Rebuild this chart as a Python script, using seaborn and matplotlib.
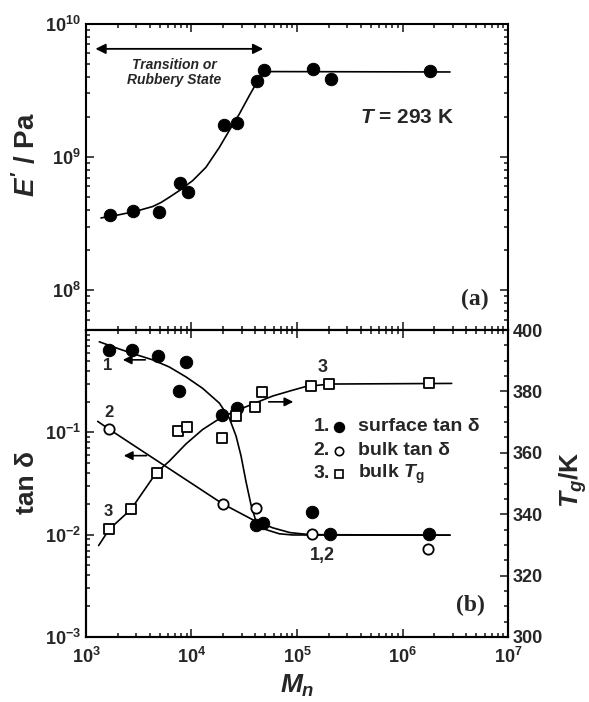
import matplotlib
matplotlib.use('Agg')
import matplotlib.pyplot as plt
import matplotlib.ticker as mticker
import seaborn as sns

# ---------------- data ----------------
# (a) storage modulus E' vs Mn
E_mn = [1690, 2770, 4950, 7780, 9200, 20200, 27000, 41500, 49000, 141000, 208000, 1820000]
E_val = [3.66e8, 3.90e8, 3.84e8, 6.34e8, 5.48e8, 1.75e9, 1.80e9, 3.75e9, 4.51e9, 4.56e9, 3.86e9, 4.44e9]
E_fit_mn = [1387, 2070, 2979, 4285, 5150, 6166, 7656, 10260, 13710, 18370, 22800, 28380,
            35320, 40830, 47320, 54580, 2818000]
E_fit_val = [3.48e8, 3.68e8, 3.91e8, 4.24e8, 4.55e8, 4.98e8, 5.58e8, 6.64e8, 8.36e8, 1.18e9,
             1.58e9, 2.10e9, 2.89e9, 3.54e9, 4.21e9, 4.38e9, 4.35e9]

# (b) surface tan delta (1), bulk tan delta (2), bulk Tg (3)
surf_mn = [1650, 2730, 4770, 7570, 8870, 19300, 26800, 40800, 48000, 139700, 205000, 1800000]
surf_tan = [0.643, 0.638, 0.553, 0.254, 0.492, 0.149, 0.173, 0.0124, 0.0130, 0.0166, 0.0101, 0.0101]
surf_fit_mn = [1337, 2070, 2979, 4285, 6166, 8872, 12760, 18370, 22800, 26420, 29440, 32890,
               36640, 40830, 50820, 67920, 91000, 2818000]
surf_fit_tan = [0.767, 0.652, 0.575, 0.511, 0.435, 0.348, 0.269, 0.193, 0.138, 0.0923, 0.0592,
                0.0328, 0.0196, 0.0135, 0.0112, 0.0102, 0.00993, 0.00989]

bulk_mn = [1660, 19800, 40800, 137600, 1760000]
bulk_tan = [0.107, 0.0200, 0.0182, 0.0101, 0.0072]
bulk_fit_mn = [1291, 1663, 19770, 38020, 58880, 85900, 132700, 2818000]
bulk_fit_tan = [0.128, 0.107, 0.0200, 0.0140, 0.01167, 0.01047, 0.0100, 0.00989]

tg_mn = [1640, 2670, 4710, 7500, 9020, 19300, 26400, 40300, 46600, 135000, 201000, 1780000]
tg_val = [335.1, 341.6, 353.4, 367.1, 368.4, 364.8, 372.0, 374.8, 379.7, 381.9, 382.4, 382.8]
tg_fit_mn = [1318, 1663, 2673, 4613, 6166, 8872, 12760, 18370, 24550, 38020, 58880, 91000,
             121600, 205600, 2924000]
tg_fit_val = [329.8, 335.1, 341.6, 353.4, 357.3, 362.9, 367.6, 371.1, 373.2, 375.9, 378.5,
              380.4, 381.6, 382.4, 382.6]

x_ticks = [1e3, 1e4, 1e5, 1e6, 1e7]

# ---------------- style ----------------
sns.set_style('ticks')
plt.rcParams.update({
    'font.family': ['Liberation Sans', 'DejaVu Sans'],
    'font.weight': 'bold',
    'mathtext.fontset': 'custom',
    'mathtext.rm': 'Liberation Sans:bold',
    'mathtext.it': 'Liberation Sans:bold:italic',
    'mathtext.bf': 'Liberation Sans:bold',
    'axes.linewidth': 1.5,
    'axes.edgecolor': 'black',
})

fig = plt.figure(figsize=(5.89, 7.02), dpi=100)
ax1 = fig.add_axes([0.146, 0.530, 0.7165, 0.436])
ax2 = fig.add_axes([0.146, 0.0926, 0.7165, 0.4373])
ax3 = ax2.twinx()

for ax in (ax1, ax2):
    ax.set_xscale('log')
    ax.set_yscale('log')
    ax.set_xlim(1e3, 1e7)

ax1.set_ylim(10 ** 7.7, 1e10)
ax2.set_ylim(1e-3, 1)
ax3.set_ylim(300, 400)

# ---------------- (a) ----------------
sns.lineplot(x=E_fit_mn, y=E_fit_val, ax=ax1, color='black', lw=1.2, estimator=None, sort=False)
sns.scatterplot(x=E_mn, y=E_val, ax=ax1, color='black', s=80, edgecolor='black', zorder=3)

ax1.annotate('', xy=(1157, 6.49e9), xytext=(50800, 6.49e9),
             arrowprops=dict(arrowstyle='<|-|>', color='black', lw=1.3, mutation_scale=15))
ax1.text(0.209, 0.84, 'Transition or\nRubbery State', transform=ax1.transAxes,
         ha='center', va='center', fontsize=10, fontstyle='italic', linespacing=1.1)
ax1.text(0.761, 0.693, '$T$ = 293 K', transform=ax1.transAxes, ha='center', va='center',
         fontsize=15)
ax1.text(0.922, 0.098, '(a)', transform=ax1.transAxes, ha='center', va='center',
         fontsize=17, family='Liberation Serif')

# ---------------- (b) ----------------
sns.lineplot(x=surf_fit_mn, y=surf_fit_tan, ax=ax2, color='black', lw=1.2, estimator=None, sort=False)
sns.lineplot(x=bulk_fit_mn, y=bulk_fit_tan, ax=ax2, color='black', lw=1.2, estimator=None, sort=False)
sns.scatterplot(x=surf_mn, y=surf_tan, ax=ax2, color='black', s=80, edgecolor='black', zorder=3)
sns.scatterplot(x=bulk_mn, y=bulk_tan, ax=ax2, color='white', s=55, edgecolor='black',
                linewidth=1.3, zorder=4)

ax3.set_xscale('log')
sns.lineplot(x=tg_fit_mn, y=tg_fit_val, ax=ax3, color='black', lw=1.2, estimator=None, sort=False)
sns.scatterplot(x=tg_mn, y=tg_val, ax=ax3, marker='s', color='white', s=60, edgecolor='black',
                linewidth=1.3, zorder=4)
ax3.set_xlim(1e3, 1e7)

arrow = dict(arrowstyle='-|>', color='black', lw=1.2, mutation_scale=13)
ax2.annotate('', xy=(2100, 0.511), xytext=(3873, 0.511), arrowprops=arrow)
ax2.annotate('', xy=(2148, 0.0592), xytext=(3981, 0.0592), arrowprops=arrow)
ax3.annotate('', xy=(98000, 376.6), xytext=(50800, 376.6), arrowprops=arrow)

ax2.text(1604, 0.451, '1', ha='center', va='center', fontsize=12)
ax2.text(1641, 0.157, '2', ha='center', va='center', fontsize=12)
ax3.text(1641, 340.8, '3', ha='center', va='center', fontsize=12)
ax3.text(173800, 387.8, '3', ha='center', va='center', fontsize=13)
ax2.text(173800, 0.00624, '1,2', ha='center', va='center', fontsize=13)
ax2.text(0.910, 0.104, '(b)', transform=ax2.transAxes, ha='center', va='center',
         fontsize=17, family='Liberation Serif')

# hand-made legend
leg_y = [0.685, 0.606, 0.531]
leg_num = ['1.', '2.', '3.']
leg_lbl = ['surface tan δ', 'bulk tan δ', 'bulk $T_\\mathrm{g}$']
leg_mk = [('o', 'black', 7), ('o', 'white', 6), ('s', 'white', 6)]
for y, n, lbl, (m, fc, ms) in zip(leg_y, leg_num, leg_lbl, leg_mk):
    ax2.text(0.539, y, n, transform=ax2.transAxes, ha='left', va='center', fontsize=14)
    ax2.plot([0.600], [y], marker=m, ms=ms, mfc=fc, mec='black', mew=1.2, ls='none',
             transform=ax2.transAxes, clip_on=False, zorder=6)
    ax2.text(0.645, y, lbl, transform=ax2.transAxes, ha='left', va='center', fontsize=14)

# ---------------- ticks ----------------
for ax in (ax1, ax2):
    ax.set_xticks(x_ticks)
    ax.xaxis.set_minor_locator(mticker.LogLocator(subs=range(2, 10), numticks=20))
    ax.xaxis.set_minor_formatter(mticker.NullFormatter())
    ax.yaxis.set_minor_locator(mticker.LogLocator(subs=range(2, 10), numticks=20))
    ax.yaxis.set_minor_formatter(mticker.NullFormatter())

ax1.set_yticks([1e8, 1e9, 1e10])
ax1.tick_params(which='both', direction='in', top=True, right=True, labelbottom=False,
                labelsize=13, width=1.2)
ax2.set_yticks([1e-3, 1e-2, 1e-1, 1],
               labels=[r'$\mathdefault{10^{-3}}$', r'$\mathdefault{10^{-2}}$',
                       r'$\mathdefault{10^{-1}}$', ''])
ax2.tick_params(which='both', direction='in', top=True, right=False, labelsize=13, width=1.2)
ax2.tick_params(axis='x', which='major', pad=7)
ax3.set_yticks(range(300, 401, 20))
ax3.yaxis.set_minor_locator(mticker.MultipleLocator(5))
ax3.tick_params(which='both', direction='in', right=True, left=False, labelsize=13, width=1.2)
for ax in (ax1, ax2, ax3):
    ax.tick_params(which='major', length=6)
    ax.tick_params(which='minor', length=3)
    ax.set_xlabel('')
    ax.set_ylabel('')

# ---------------- axis titles ----------------
fig.text(27 / 589, 1 - 155 / 702, "$E'$ / Pa", rotation=90, ha='center', va='center', fontsize=20)
fig.text(27 / 589, 1 - 483 / 702, 'tan δ', rotation=90, ha='center', va='center', fontsize=19)
fig.text(573 / 589, 1 - 480 / 702, '$T_g$/K', rotation=90, ha='center', va='center', fontsize=19)
fig.text(297 / 589, 1 - 686 / 702, '$M_n$', ha='center', va='center', fontsize=19)

fig.savefig('out.png', dpi=100)
